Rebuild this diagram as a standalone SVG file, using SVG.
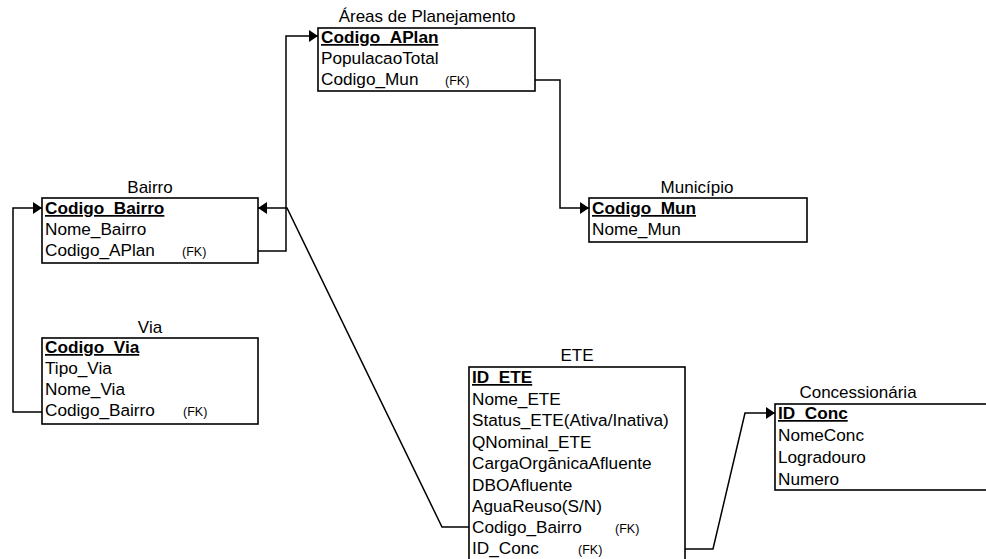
<svg xmlns="http://www.w3.org/2000/svg" width="986" height="559" viewBox="0 0 986 559">
<style>
text{font-family:"Liberation Sans",Arial,sans-serif;fill:#000}
.t{font-size:17px;text-anchor:middle}
.f{font-size:17.2px}
.pk{font-size:17.2px;font-weight:bold;text-decoration:underline}
.fk{font-size:12.5px}
.box{fill:#fff;stroke:#000;stroke-width:1.6}
.c{fill:none;stroke:#000;stroke-width:1.5}
</style>
<defs>
<marker id="ah" markerUnits="userSpaceOnUse" markerWidth="10" markerHeight="14" refX="9" refY="7" orient="auto">
<path d="M0,1 L9,7 L0,13 Z" fill="#000"/>
</marker>
</defs>
<rect width="986" height="559" fill="#fff"/>
<g id="connectors">
<path class="c" d="M535,80 H560 V208 H589" marker-end="url(#ah)"/>
<path class="c" d="M258,251 H286 V36 H318" marker-end="url(#ah)"/>
<path class="c" d="M42,412 H13 V208 H42" marker-end="url(#ah)"/>
<path class="c" d="M469,527 H442 L287,208 H258" marker-end="url(#ah)"/>
<path class="c" d="M685,549 H713 L745,413 H775" marker-end="url(#ah)"/>
</g>
<g id="areas">
<text class="t" x="427" y="22">Áreas de Planejamento</text>
<rect class="box" x="318" y="28" width="217" height="63"/>
<text class="pk" x="321" y="43">Codigo_APlan</text>
<text class="f" x="321" y="64">PopulacaoTotal</text>
<text class="f" x="321" y="85">Codigo_Mun</text>
<text class="fk" x="445" y="85">(FK)</text>
</g>
<g id="municipio">
<text class="t" x="697" y="193">Município</text>
<rect class="box" x="589" y="198" width="218" height="44"/>
<text class="pk" x="592" y="214">Codigo_Mun</text>
<text class="f" x="592" y="235">Nome_Mun</text>
</g>
<g id="bairro">
<text class="t" x="150" y="193">Bairro</text>
<rect class="box" x="42" y="198" width="216" height="65"/>
<text class="pk" x="45" y="214">Codigo_Bairro</text>
<text class="f" x="45" y="235">Nome_Bairro</text>
<text class="f" x="45" y="256">Codigo_APlan</text>
<text class="fk" x="182" y="256">(FK)</text>
</g>
<g id="via">
<text class="t" x="150" y="333">Via</text>
<rect class="box" x="42" y="338" width="216" height="86"/>
<text class="pk" x="45" y="353">Codigo_Via</text>
<text class="f" x="45" y="374">Tipo_Via</text>
<text class="f" x="45" y="395">Nome_Via</text>
<text class="f" x="45" y="416">Codigo_Bairro</text>
<text class="fk" x="183" y="416">(FK)</text>
</g>
<g id="ete">
<text class="t" x="577" y="361">ETE</text>
<rect class="box" x="469" y="367" width="216" height="210"/>
<text class="pk" x="472" y="383">ID_ETE</text>
<text class="f" x="472" y="404.5">Nome_ETE</text>
<text class="f" x="472" y="426">Status_ETE(Ativa/Inativa)</text>
<text class="f" x="472" y="447.5">QNominal_ETE</text>
<text class="f" x="472" y="469">CargaOrgânicaAfluente</text>
<text class="f" x="472" y="490.5">DBOAfluente</text>
<text class="f" x="472" y="512">AguaReuso(S/N)</text>
<text class="f" x="472" y="533">Codigo_Bairro</text>
<text class="fk" x="615" y="533">(FK)</text>
<text class="f" x="472" y="554">ID_Conc</text>
<text class="fk" x="578" y="554">(FK)</text>
</g>
<g id="concessionaria">
<text class="t" x="858" y="398">Concessionária</text>
<rect class="box" x="775" y="404" width="230" height="86"/>
<text class="pk" x="778" y="419">ID_Conc</text>
<text class="f" x="778" y="441">NomeConc</text>
<text class="f" x="778" y="463">Logradouro</text>
<text class="f" x="778" y="485">Numero</text>
</g>
</svg>
